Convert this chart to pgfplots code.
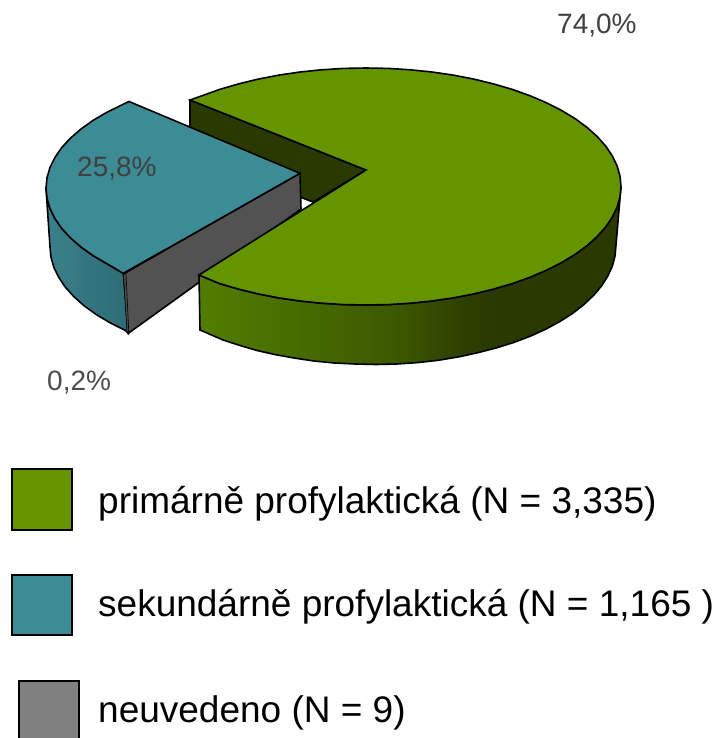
\documentclass[border=0pt]{standalone}
\usepackage{fontspec}
\setmainfont{Liberation Sans}
\usepackage{pgfplots}
\pgfplotsset{compat=1.18}
\definecolor{cgreen}{RGB}{100,148,0}
\definecolor{cteal}{RGB}{61,139,148}
\definecolor{cgrey}{RGB}{128,128,128}
\definecolor{cwall}{RGB}{82,82,82}
\definecolor{cdark}{RGB}{41,58,0}
\definecolor{cg1}{RGB}{82,125,0}
\definecolor{cg2}{RGB}{60,90,0}
\definecolor{cg3}{RGB}{45,60,0}
\definecolor{ct1}{RGB}{58,128,138}
\definecolor{ct2}{RGB}{44,108,120}
\pgfdeclarehorizontalshading{greenside}{100bp}{color(0bp)=(cg1); color(25bp)=(cg1); color(48bp)=(cg2); color(57bp)=(cg3); color(60bp)=(cdark); color(100bp)=(cdark)}
\pgfdeclarehorizontalshading{tealside}{100bp}{color(0bp)=(ct1); color(25bp)=(ct1); color(75bp)=(ct2); color(100bp)=(ct2)}
\begin{document}
\begin{tikzpicture}
\path[use as bounding box] (0,0) rectangle (721pt,738pt);
\begin{axis}[at={(0,0)},anchor=south west,width=721pt,height=738pt,scale only axis,hide axis,
 xmin=0,xmax=721,ymin=0,ymax=738,y dir=reverse,clip=true]
% dark inner wall of the green slice
\addplot[fill=cdark,draw=black,line width=1.6pt] coordinates {(190,100)(366,170)(313,202)(190,155)} -- cycle;
% teal side
\addplot[shading=tealside,draw=black,line width=1.6pt] coordinates {
(46,188)(47,198.3)(50,208.5)(54.9,218.5)(61.7,228.4)(70.5,237.9)(81,247)(93.2,255.7)(107.1,263.8)(123.5,273.5)
(128.3,333.3)(125.3,330.4)(110.1,322.8)(96.5,314.7)(84.4,306)(74.1,296.9)(65.5,287.4)(58.8,277.5)(53.9,267.5)(51,257.3)(50,247)} -- cycle;
% grey wall
\addplot[fill=cwall,draw=black,line width=1.6pt] coordinates {(123.5,273.5)(300,173.3)(301,209)(128.3,333.3)} -- cycle;
\addplot[fill=black!70,draw=black,line width=0.6pt] coordinates {(123.5,274)(126,273.5)(128.8,333)(127,332)} -- cycle;
% teal top
\addplot[fill=cteal,draw=black,line width=1.6pt] coordinates {
(300,173.3)(129,101.5)(122.4,104.6)(107.1,112.2)(93.2,120.3)(81,129)(70.5,138.1)(61.7,147.6)(54.9,157.5)(50,167.5)(47,177.7)(46,188)
(47,198.3)(50,208.5)(54.9,218.5)(61.7,228.4)(70.5,237.9)(81,247)(93.2,255.7)(107.1,263.8)(123.5,273.5)} -- cycle;
\addplot[draw=black,line width=2pt] coordinates {(123.5,273.5)(165,250)};
% green side
\addplot[shading=greenside,draw=black,line width=1.6pt] coordinates {
(621,186.5)(620,196.8)(617.1,207.1)(612.3,217.2)(605.6,227)(597.1,236.6)(586.8,245.8)(574.9,254.5)(561.3,262.7)(546.3,270.3)(529.9,277.3)(512.3,283.6)(493.5,289.1)(473.8,293.9)(453.2,297.9)(432,301)(410.3,303.2)(388.2,304.6)(366,305)(343.8,304.6)(321.7,303.2)(300,301)(278.8,297.9)(258.2,293.9)(238.5,289.1)(219.7,283.6)(199,275)
(200,330)(223,340)(240,345.5)(257,350.5)(274.6,354.5)(293.9,358)(313.9,361)(334.3,363)(355.1,364)(376,364.5)(396.9,364)(417.7,362.6)(438.1,360.3)(458.1,357)(477.4,352.8)(496,348)(513.7,342.5)(530.3,336.2)(545.7,329.2)(559.9,321.5)(572.6,313.4)(583.8,304.6)(593.5,295.5)(601.5,286)(607.8,276)(612.4,266)(615.1,255.6)(616,245)} -- cycle;
% green top
\addplot[fill=cgreen,draw=black,line width=1.6pt] coordinates {
(366,170)(190,100)(202.1,95.7)(219.7,89.4)(238.5,83.9)(258.2,79.1)(278.8,75.1)(300,72)(321.7,69.8)(343.8,68.4)(366,68)(388.2,68.4)(410.3,69.8)(432,72)(453.2,75.1)(473.8,79.1)(493.5,83.9)(512.3,89.4)(529.9,95.7)(546.3,102.7)(561.3,110.3)(574.9,118.5)(586.8,127.2)(597.1,136.4)(605.6,146)(612.3,155.8)(617.1,165.9)(620,176.2)(621,186.5)
(620,196.8)(617.1,207.1)(612.3,217.2)(605.6,227)(597.1,236.6)(586.8,245.8)(574.9,254.5)(561.3,262.7)(546.3,270.3)(529.9,277.3)(512.3,283.6)(493.5,289.1)(473.8,293.9)(453.2,297.9)(432,301)(410.3,303.2)(388.2,304.6)(366,305)(343.8,304.6)(321.7,303.2)(300,301)(278.8,297.9)(258.2,293.9)(238.5,289.1)(219.7,283.6)(199,275)} -- cycle;
% legend swatches
\addplot[fill=cgreen,draw=black,line width=2pt] coordinates {(11.5,468.5)(72,468.5)(72,529.5)(11.5,529.5)} -- cycle;
\addplot[fill=cteal,draw=black,line width=2pt] coordinates {(11.5,574.5)(72,574.5)(72,635)(11.5,635)} -- cycle;
\addplot[fill=cgrey,draw=black,line width=2pt] coordinates {(18.5,680.5)(79,680.5)(79,745)(18.5,745)} -- cycle;
% labels
\node[anchor=base west,inner sep=0,text=black!75,font=\fontsize{28}{32}\selectfont] at (axis cs:557,34) {74,0\%};
\node[anchor=base west,inner sep=0,text=black!75,font=\fontsize{28}{32}\selectfont] at (axis cs:77,177) {25,8\%};
\node[anchor=base west,inner sep=0,text=black!70,font=\fontsize{28}{32}\selectfont] at (axis cs:47,390) {0,2\%};
\node[anchor=base west,inner sep=0,font=\fontsize{37}{44}\selectfont] at (axis cs:98,513) {primárně profylaktická (N = 3,335)};
\node[anchor=base west,inner sep=0,font=\fontsize{37}{44}\selectfont] at (axis cs:98,616) {sekundárně profylaktická (N = 1,165 )};
\node[anchor=base west,inner sep=0,font=\fontsize{37}{44}\selectfont] at (axis cs:98,722) {neuvedeno (N = 9)};
\end{axis}
\end{tikzpicture}
\end{document}
